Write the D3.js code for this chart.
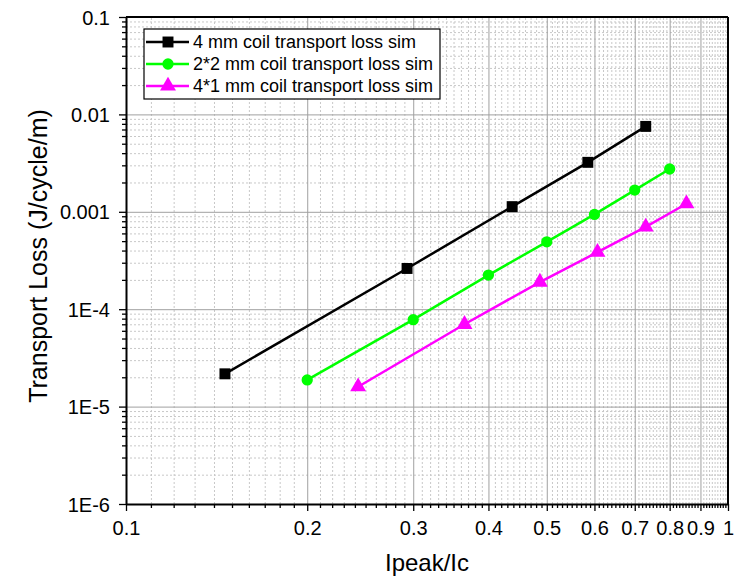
<!DOCTYPE html>
<html>
<head>
<meta charset="utf-8">
<script src="https://cdn.jsdelivr.net/npm/d3@7"></script>
<style>
  body { margin: 0; background: #fff; }
  svg { font-family: "Liberation Sans", Arial, sans-serif; }
</style>
</head>
<body>
<div class="chart-container"></div>
<script>
const totalWidth = 745;
const totalHeight = 577;

const plotLeft = 126, plotRight = 728, plotTop = 17, plotBottom = 504;

// data
const seriesNames = ["4 mm coil transport loss sim", "2*2 mm coil transport loss sim", "4*1 mm coil transport loss sim"];
const x4mm = [0.146, 0.293, 0.438, 0.585, 0.730];
const y4mm = [2.17e-5, 2.62e-4, 1.13e-3, 3.22e-3, 7.53e-3];
const x22mm = [0.2, 0.3, 0.4, 0.5, 0.6, 0.7, 0.8];
const y22mm = [1.88e-5, 7.8e-5, 2.24e-4, 4.92e-4, 9.4e-4, 1.67e-3, 2.75e-3];
const x41mm = [0.243, 0.365, 0.487, 0.607, 0.730, 0.853];
const y41mm = [1.6e-5, 7.0e-5, 1.9e-4, 3.85e-4, 7.0e-4, 1.21e-3];

const xTicks = [0.1, 0.2, 0.3, 0.4, 0.5, 0.6, 0.7, 0.8, 0.9, 1];
const xTickLabels = ["0.1", "0.2", "0.3", "0.4", "0.5", "0.6", "0.7", "0.8", "0.9", "1"];
const yTicks = [1e-6, 1e-5, 1e-4, 1e-3, 1e-2, 1e-1];
const yTickLabels = ["1E-6", "1E-5", "1E-4", "0.001", "0.01", "0.1"];

const series = [
  {name: seriesNames[0], xs: x4mm, ys: y4mm, color: "#000000", symbol: d3.symbolSquare, size: 120},
  {name: seriesNames[1], xs: x22mm, ys: y22mm, color: "#00ff00", symbol: d3.symbolCircle, size: 100},
  {name: seriesNames[2], xs: x41mm, ys: y41mm, color: "#ff00ff", symbol: d3.symbolTriangle, size: 110},
];

// minor ticks: every 0.01 on x, 2..9 per decade on y
const xMinor = d3.range(11, 100).map(i => i / 100).filter(v => Math.round(v * 100) % 10 !== 0);
const yMinor = [];
for (let e = -6; e < -1; e++) for (let k = 2; k <= 9; k++) yMinor.push(k * Math.pow(10, e));

const svg = d3.select("body")
    .select('.chart-container')
    .append("svg")
    .attr('width', totalWidth)
    .attr('height', totalHeight);

const scaleX = d3.scaleLog().domain([0.1, 1]).range([plotLeft, plotRight]);
const scaleY = d3.scaleLog().domain([1e-6, 0.1]).range([plotBottom, plotTop]);

// grid
const gridMinor = svg.append('g').attr('class', 'grid-minor');
gridMinor.append('g')
    .attr('transform', `translate(0,${plotBottom})`)
    .call(d3.axisBottom(scaleX).tickValues(xMinor).tickSize(-(plotBottom - plotTop)).tickFormat(""));
gridMinor.append('g')
    .attr('transform', `translate(${plotLeft},0)`)
    .call(d3.axisLeft(scaleY).tickValues(yMinor).tickSize(-(plotRight - plotLeft)).tickFormat(""));
gridMinor.selectAll('.domain').remove();
gridMinor.selectAll('line').attr('stroke', '#c8c8c8').attr('stroke-dasharray', '2,2');

const gridMajor = svg.append('g').attr('class', 'grid-major');
gridMajor.append('g')
    .attr('transform', `translate(0,${plotBottom})`)
    .call(d3.axisBottom(scaleX).tickValues(xTicks.slice(1, -1)).tickSize(-(plotBottom - plotTop)).tickFormat(""));
gridMajor.append('g')
    .attr('transform', `translate(${plotLeft},0)`)
    .call(d3.axisLeft(scaleY).tickValues(yTicks.slice(1, -1)).tickSize(-(plotRight - plotLeft)).tickFormat(""));
gridMajor.selectAll('.domain').remove();
gridMajor.selectAll('line').attr('stroke', '#a0a0a0');

// frame top/right
svg.append('line').attr('x1', plotLeft).attr('x2', plotRight).attr('y1', plotTop).attr('y2', plotTop)
    .attr('stroke', '#000').attr('stroke-width', 2);
svg.append('line').attr('x1', plotRight).attr('x2', plotRight).attr('y1', plotTop).attr('y2', plotBottom)
    .attr('stroke', '#000').attr('stroke-width', 2);

// axes
const xAxis = svg.append('g')
    .attr("class", "horizontal-axis")
    .attr('transform', `translate(0,${plotBottom})`)
    .call(d3.axisBottom(scaleX).tickValues(xTicks).tickSize(7).tickSizeOuter(0)
        .tickFormat((d, i) => xTickLabels[i]));
svg.append('g')
    .attr('transform', `translate(0,${plotBottom})`)
    .call(d3.axisBottom(scaleX).tickValues(xMinor).tickSize(4).tickFormat(""))
    .select('.domain').remove();

const yAxis = svg.append('g')
    .attr("class", "vertical-axis")
    .attr('transform', `translate(${plotLeft},0)`)
    .call(d3.axisLeft(scaleY).tickValues(yTicks).tickSize(7).tickSizeOuter(0)
        .tickFormat((d, i) => yTickLabels[i]));
svg.append('g')
    .attr('transform', `translate(${plotLeft},0)`)
    .call(d3.axisLeft(scaleY).tickValues(yMinor).tickSize(4).tickFormat(""))
    .select('.domain').remove();

svg.selectAll('.horizontal-axis, .vertical-axis').selectAll('.domain').attr('stroke-width', 2);
svg.selectAll('.tick line').attr('stroke-width', 1.3);
svg.selectAll('.grid-minor .tick line, .grid-major .tick line').attr('stroke-width', 1);
xAxis.selectAll('text').attr('font-size', 20).attr('y', 31).attr('dy', 0).attr('fill', '#000')
    .attr('font-family', '"Liberation Sans", Arial, sans-serif');
yAxis.selectAll('text').attr('font-size', 20).attr('x', -16).attr('dy', '0.35em').attr('fill', '#000')
    .attr('font-family', '"Liberation Sans", Arial, sans-serif');

// axis titles
svg.append('text')
    .attr('x', 427).attr('y', 571)
    .attr('text-anchor', 'middle').attr('font-size', 24)
    .text('Ipeak/Ic');
svg.append('text')
    .attr('transform', `translate(47,256) rotate(-90)`)
    .attr('text-anchor', 'middle').attr('font-size', 25)
    .text('Transport Loss (J/cycle/m)');

// series
const plot = svg.append('g');
series.forEach(s => {
  const pts = s.xs.map((x, i) => [x, s.ys[i]]);
  plot.append('path')
      .datum(pts)
      .attr('fill', 'none')
      .attr('stroke', s.color)
      .attr('stroke-width', 2.5)
      .attr('d', d3.line().x(d => scaleX(d[0])).y(d => scaleY(d[1])));
  plot.selectAll(null)
      .data(pts)
      .enter()
      .append('path')
      .attr('transform', d => `translate(${scaleX(d[0])},${scaleY(d[1])})`)
      .attr('d', d3.symbol().type(s.symbol).size(s.size))
      .attr('fill', s.color);
});

// legend
const legend = svg.append('g').attr('transform', 'translate(144,29)');
legend.append('rect').attr('width', 296).attr('height', 70)
    .attr('fill', '#fff').attr('stroke', '#000').attr('stroke-width', 1.2);
series.forEach((s, i) => {
  const row = legend.append('g').attr('transform', `translate(0,${13 + i * 22})`);
  row.append('line').attr('x1', 2).attr('x2', 45).attr('stroke', s.color).attr('stroke-width', 2.5);
  row.append('path').attr('transform', 'translate(24,0)')
      .attr('d', d3.symbol().type(s.symbol).size(s.size)).attr('fill', s.color);
  row.append('text').attr('x', 49).attr('dy', '0.35em').attr('font-size', 18).text(s.name);
});
</script>
</body>
</html>
